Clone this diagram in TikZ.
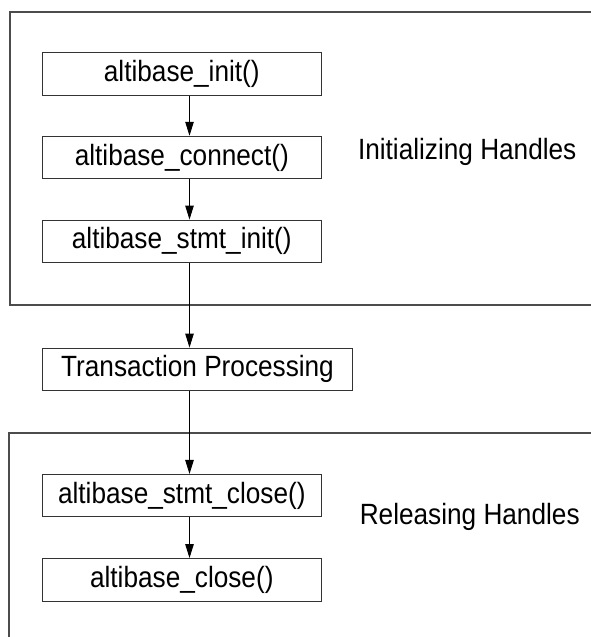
\documentclass[tikz,border=0pt]{standalone}
\usepackage{fontspec}
\setmainfont{Liberation Sans}[FakeStretch=0.894]
\usetikzlibrary{arrows.meta}
\begin{document}
\begin{tikzpicture}[x=1pt,y=-1pt,
  frame/.style={draw=black!70,line width=1.2pt},
  stepbox/.style={draw=black!80,line width=1pt,rectangle,inner sep=0pt,
    minimum height=42.5pt,font=\fontsize{29.3}{32}\selectfont},
  grouplabel/.style={anchor=base west,inner sep=0pt,font=\fontsize{29.3}{32}\selectfont},
  flow/.style={draw=black,line width=0.9pt,-{Triangle[width=8.5pt,length=14pt]}}]
  \useasboundingbox (0,0) rectangle (591,637);

  % group frames (open towards the right and bottom edges)
  \draw[frame] (591,12) -- (10,12) -- (10,305) -- (591,305);
  \draw[frame] (591,433) -- (9,433) -- (9,637);

  % the common axis of the flow arrows
  \coordinate (ax) at (189.5,0);

  % steps
  \node[stepbox,minimum width=278.5pt] (init)  at (181.8,74.2)  {altibase\_init()};
  \node[stepbox,minimum width=278.5pt] (conn)  at (181.8,157.5) {altibase\_connect()};
  \node[stepbox,minimum width=278.5pt] (sinit) at (181.8,241.3) {altibase\_stmt\_init()};
  \node[stepbox,minimum width=310.5pt] (trans) at (197.5,369.3) {Transaction Processing};
  \node[stepbox,minimum width=278.5pt] (sclose) at (181.8,495.7) {altibase\_stmt\_close()};
  \node[stepbox,minimum width=278.5pt] (close)  at (181.8,579.8) {altibase\_close()};

  % group names
  \node[grouplabel] (inilab) at (357.8,159.5) {Initializing Handles};
  \node[grouplabel] (rellab) at (359.6,524.3) {Releasing Handles};

  % flow
  \draw[flow] (init.south -| ax)   -- (conn.north -| ax);
  \draw[flow] (conn.south -| ax)   -- (sinit.north -| ax);
  \draw[flow] (sinit.south -| ax)  -- (trans.north -| ax);
  \draw[flow] (trans.south -| ax)  -- (sclose.north -| ax);
  \draw[flow] (sclose.south -| ax) -- (close.north -| ax);
\end{tikzpicture}
\end{document}
